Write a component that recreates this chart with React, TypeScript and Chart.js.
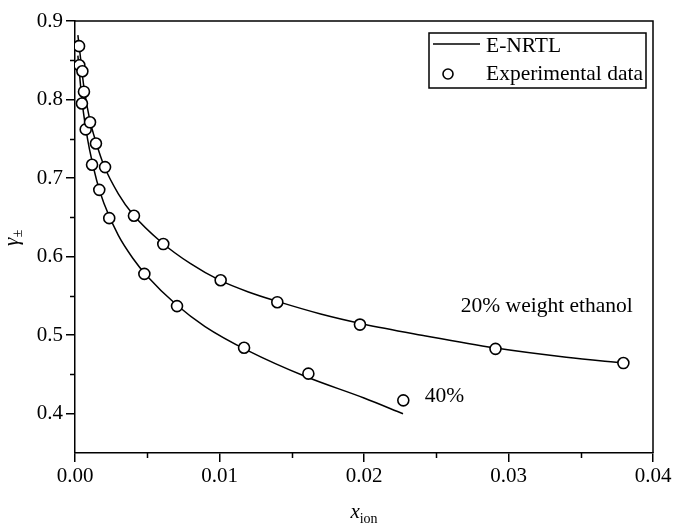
import React, { useEffect, useRef } from 'react';
import { Chart, registerables } from 'chart.js';

Chart.register(...registerables);

// ---- data ----
const xTicks = [0, 0.01, 0.02, 0.03, 0.04];
const yTicks = [0.4, 0.5, 0.6, 0.7, 0.8, 0.9];
const xMinorTicks = [0.005, 0.015, 0.025, 0.035];
const yMinorTicks = [0.45, 0.55, 0.65, 0.75, 0.85];

const seriesLabels = ['E-NRTL', 'Experimental data'];
const curveLabels = ['20% weight ethanol', '40%'];

// experimental points, 20 wt% ethanol
const exp20X = [0.00028, 0.00051, 0.00062, 0.00104, 0.00145, 0.00208, 0.00408, 0.00611, 0.01008, 0.014, 0.01972, 0.0291, 0.03795];
const exp20Y = [0.868, 0.836, 0.81, 0.771, 0.744, 0.714, 0.652, 0.616, 0.57, 0.542, 0.5135, 0.4826, 0.4645];

// experimental points, 40 wt% ethanol
const exp40X = [0.0003, 0.00048, 0.00074, 0.00118, 0.00168, 0.00237, 0.0048, 0.00706, 0.0117, 0.01615, 0.02272];
const exp40Y = [0.8437, 0.795, 0.762, 0.717, 0.685, 0.649, 0.578, 0.537, 0.484, 0.451, 0.417];

// E-NRTL model curves
const model20X = [0.0002, 0.0004, 0.0006, 0.001, 0.0015, 0.002, 0.003, 0.004, 0.006, 0.008, 0.01, 0.012, 0.014, 0.017, 0.02, 0.024, 0.029, 0.034, 0.038];
const model20Y = [0.882, 0.85, 0.818, 0.776, 0.743, 0.716, 0.68, 0.654, 0.618, 0.591, 0.57, 0.555, 0.543, 0.527, 0.514, 0.5, 0.484, 0.472, 0.4645];

const model40X = [0.0002, 0.0005, 0.00075, 0.001, 0.0015, 0.002, 0.003, 0.004, 0.005, 0.007, 0.009, 0.012, 0.016, 0.02, 0.0227];
const model40Y = [0.856, 0.796, 0.763, 0.737, 0.697, 0.668, 0.627, 0.598, 0.575, 0.539, 0.511, 0.48, 0.447, 0.42, 0.4];

const zip = (xs: number[], ys: number[]) => xs.map((x, i) => ({ x, y: ys[i] }));

const FONT = "'Liberation Serif', 'Times New Roman', serif";

// label anchor positions in data coordinates
const label20Pos = { x: 0.0267, y: 0.53 };
const label40Pos = { x: 0.0242, y: 0.415 };

const decorPlugin = {
  id: 'decor',
  afterDraw(chart: any) {
    const { ctx, chartArea: a, scales } = chart;
    const xs = scales.x;
    const ys = scales.y;
    ctx.save();
    ctx.strokeStyle = '#000';
    ctx.fillStyle = '#000';
    ctx.lineWidth = 1.5;

    // frame top & right
    ctx.beginPath();
    ctx.moveTo(a.left, a.top);
    ctx.lineTo(a.right, a.top);
    ctx.lineTo(a.right, a.bottom);
    ctx.stroke();

    // minor ticks
    ctx.beginPath();
    xMinorTicks.forEach((v) => {
      const px = Math.round(xs.getPixelForValue(v)) + 0.5;
      ctx.moveTo(px, a.bottom);
      ctx.lineTo(px, a.bottom + 5);
    });
    yMinorTicks.forEach((v) => {
      const py = Math.round(ys.getPixelForValue(v)) + 0.5;
      ctx.moveTo(a.left, py);
      ctx.lineTo(a.left - 5, py);
    });
    ctx.stroke();

    // curve labels
    ctx.font = `21.5px ${FONT}`;
    ctx.textAlign = 'left';
    ctx.textBaseline = 'alphabetic';
    ctx.fillText(curveLabels[0], xs.getPixelForValue(label20Pos.x), ys.getPixelForValue(label20Pos.y));
    ctx.fillText(curveLabels[1], xs.getPixelForValue(label40Pos.x), ys.getPixelForValue(label40Pos.y));

    // legend box
    const bl = a.right - 224;
    const br = a.right - 7;
    const bt = a.top + 12;
    const bb = bt + 55;
    ctx.lineWidth = 1.5;
    ctx.strokeRect(bl, bt, br - bl, bb - bt);
    ctx.beginPath();
    ctx.moveTo(bl + 4, bt + 11);
    ctx.lineTo(bl + 51, bt + 11);
    ctx.stroke();
    ctx.beginPath();
    ctx.arc(bl + 19, bt + 41, 5, 0, Math.PI * 2);
    ctx.fillStyle = '#fff';
    ctx.fill();
    ctx.lineWidth = 1.6;
    ctx.stroke();
    ctx.fillStyle = '#000';
    ctx.font = `21.5px ${FONT}`;
    ctx.fillText(seriesLabels[0], bl + 57, bt + 19);
    ctx.fillText(seriesLabels[1], bl + 57, bt + 47);

    // x axis title: x_ion
    ctx.font = `italic 21px ${FONT}`;
    const cx = (a.left + a.right) / 2;
    const xw = ctx.measureText('x').width;
    ctx.font = `14px ${FONT}`;
    const iw = ctx.measureText('ion').width;
    const start = cx - (xw + iw) / 2;
    ctx.font = `italic 21px ${FONT}`;
    ctx.fillText('x', start, 518);
    ctx.font = `14px ${FONT}`;
    ctx.fillText('ion', start + xw, 523);

    // y axis title: gamma_pm (rotated)
    ctx.save();
    ctx.translate(18, 246);
    ctx.rotate(-Math.PI / 2);
    ctx.font = `italic 21px ${FONT}`;
    const gw = ctx.measureText('γ').width;
    ctx.fillText('γ', 0, 0);
    ctx.font = `14px ${FONT}`;
    ctx.fillText('±', gw + 0.5, 4);
    ctx.restore();

    ctx.restore();
  },
};

export default function App() {
  const canvasRef = useRef<HTMLCanvasElement | null>(null);

  useEffect(() => {
    const canvas = canvasRef.current;
    if (!canvas) return;
    const pointStyle = {
      showLine: false,
      pointRadius: 5.5,
      pointHoverRadius: 5.5,
      pointBorderWidth: 1.6,
      pointBackgroundColor: '#fff',
      pointBorderColor: '#000',
      borderColor: '#000',
      backgroundColor: '#fff',
    };
    const lineStyle = {
      showLine: true,
      pointRadius: 0,
      borderColor: '#000',
      borderWidth: 1.5,
      cubicInterpolationMode: 'monotone' as const,
      fill: false,
    };
    const chart = new Chart(canvas, {
      type: 'scatter',
      data: {
        datasets: [
          { label: 'exp 20%', data: zip(exp20X, exp20Y), ...pointStyle },
          { label: 'exp 40%', data: zip(exp40X, exp40Y), ...pointStyle },
          { label: 'E-NRTL 20%', data: zip(model20X, model20Y), ...lineStyle },
          { label: 'E-NRTL 40%', data: zip(model40X, model40Y), ...lineStyle },
        ],
      },
      options: {
        animation: false,
        responsive: false,
        events: [],
        layout: { padding: { left: 0, top: 21, right: 22, bottom: 0 } },
        plugins: {
          legend: { display: false },
          tooltip: { enabled: false },
        },
        scales: {
          x: {
            type: 'linear',
            min: 0,
            max: 0.04,
            afterBuildTicks: (scale: any) => {
              scale.ticks = xTicks.map((v) => ({ value: v }));
            },
            afterFit: (scale: any) => {
              scale.height = 74;
            },
            ticks: {
              color: '#000',
              font: { family: FONT, size: 21 },
              padding: 2,
              maxRotation: 0,
              callback: (v: any) => Number(v).toFixed(2),
            },
            grid: {
              display: true,
              drawOnChartArea: false,
              drawTicks: true,
              tickLength: 9,
              color: '#000',
              lineWidth: 1.5,
            },
            border: { display: true, color: '#000', width: 1.5 },
          },
          y: {
            type: 'linear',
            min: 0.35,
            max: 0.9,
            afterBuildTicks: (scale: any) => {
              scale.ticks = yTicks.map((v) => ({ value: v }));
            },
            afterFit: (scale: any) => {
              scale.width = 75;
            },
            ticks: {
              color: '#000',
              font: { family: FONT, size: 21 },
              padding: 3,
              callback: (v: any) => Number(v).toFixed(1),
            },
            grid: {
              display: true,
              drawOnChartArea: false,
              drawTicks: true,
              tickLength: 9,
              color: '#000',
              lineWidth: 1.5,
            },
            border: { display: true, color: '#000', width: 1.5 },
          },
        },
      },
      plugins: [decorPlugin],
    });
    return () => chart.destroy();
  }, []);

  return (
    <div style={{ position: 'absolute', left: 0, top: 0, width: 675, height: 527, background: '#fff' }}>
      <canvas ref={canvasRef} width={675} height={527} style={{ display: 'block' }} />
    </div>
  );
}
